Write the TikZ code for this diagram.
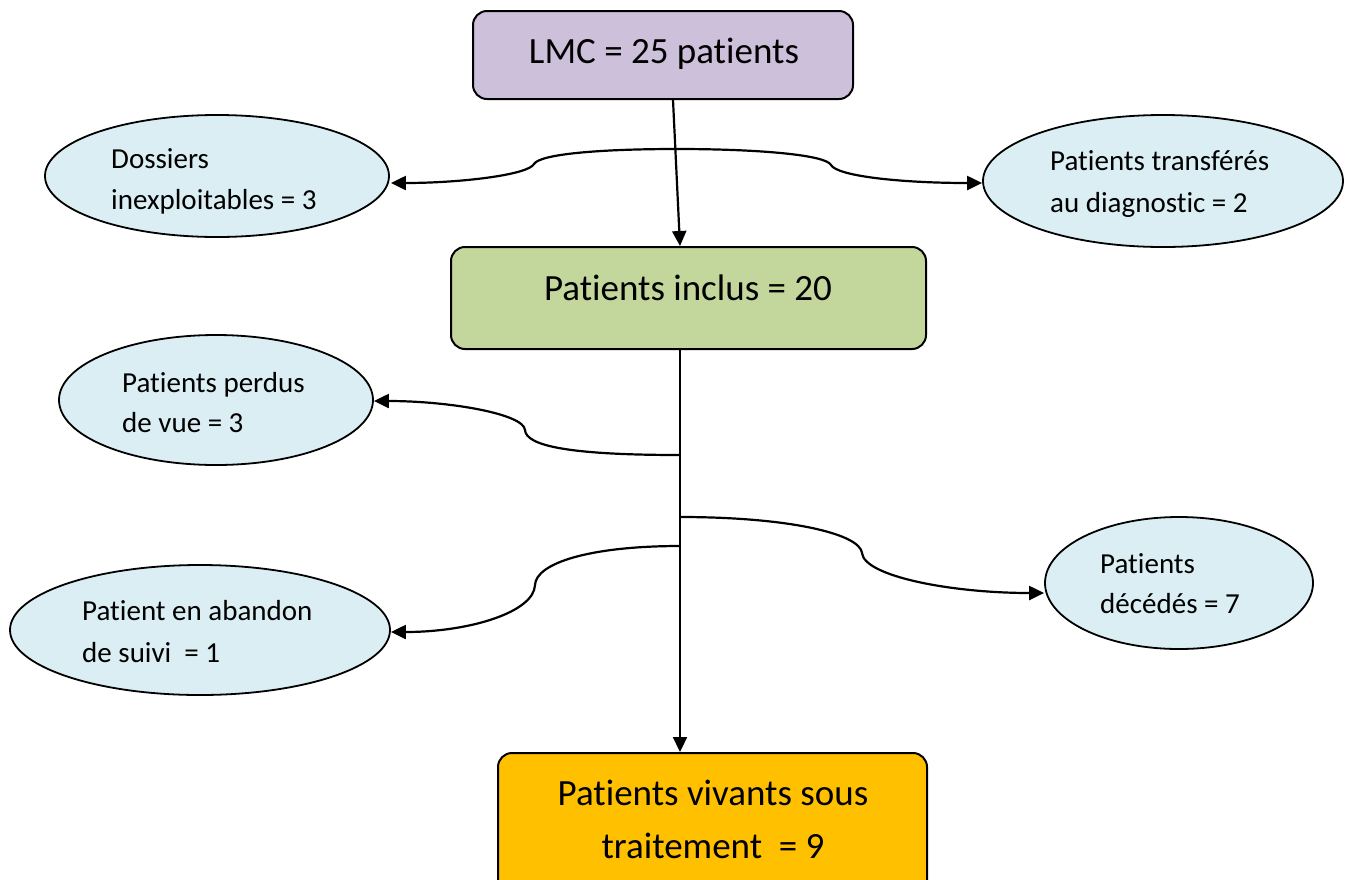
\documentclass[tikz,border=0pt]{standalone}
\usepackage{fontspec}
\setmainfont{Carlito}[RawFeature={-liga;-clig;-calt;-dlig}]
\usetikzlibrary{arrows.meta,shapes.geometric,calc}
\definecolor{lmcpurple}{HTML}{CCC0DA}
\definecolor{inclgreen}{HTML}{C3D69B}
\definecolor{vivorange}{HTML}{FFC000}
\definecolor{ellblue}{HTML}{DAEEF3}
\begin{document}
\begin{tikzpicture}[x=1pt,y=-1pt,
  box/.style={draw=black,line width=2pt,rounded corners=14pt,inner sep=0pt},
  oval/.style={draw=black,line width=1.8pt,fill=ellblue,ellipse,inner sep=0pt},
  bigtxt/.style={font=\fontsize{37}{53}\selectfont,inner sep=0pt,anchor=base},
  smalltxt/.style={font=\fontsize{29}{41}\selectfont,inner sep=0pt,anchor=base west},
  conn/.style={line width=2.2pt,-{Triangle[length=15pt,width=14pt]}},
  plain/.style={line width=2.2pt}]
\useasboundingbox (0,0) rectangle (1352,879);
% boxes
\node[box,fill=lmcpurple,minimum width=380pt,minimum height=88pt] (lmc) at (663,55) {};
\node[box,fill=inclgreen,minimum width=475pt,minimum height=102pt] (incl) at (688.5,298) {};
\node[box,fill=vivorange,minimum width=429pt,minimum height=150pt] (viv) at (712.5,828) {};
\node[bigtxt] (lmct) at (664,63) {LMC = 25 patients};
\node[bigtxt] (inclt) at (688,300) {Patients inclus = 20};
\node[bigtxt] (vivt1) at (713,805) {Patients vivants sous};
\node[bigtxt] (vivt2) at (713,858) {traitement\ \ = 9};
% ellipses
\node[oval,minimum width=344pt,minimum height=122pt] (e1) at (217,176) {};
\node[oval,minimum width=360pt,minimum height=132pt] (e2) at (1163,181) {};
\node[oval,minimum width=314pt,minimum height=130pt] (e3) at (216,400) {};
\node[oval,minimum width=380pt,minimum height=130pt] (e4) at (200,630) {};
\node[oval,minimum width=268pt,minimum height=132pt] (e5) at (1179,583) {};
\node[smalltxt] (e1a) at (111,168) {Dossiers};
\node[smalltxt] (e1b) at (111,209) {inexploitables = 3};
\node[smalltxt] (e2a) at (1050,170) {Patients transférés};
\node[smalltxt] (e2b) at (1050,212) {au diagnostic = 2};
\node[smalltxt] (e3a) at (122,392) {Patients perdus};
\node[smalltxt] (e3b) at (122,432) {de vue = 3};
\node[smalltxt] (e4a) at (82,620) {Patient en abandon};
\node[smalltxt] (e4b) at (82,662) {de suivi\ \ = 1};
\node[smalltxt] (e5a) at (1100,573) {Patients};
\node[smalltxt] (e5b) at (1100,613) {décédés = 7};
% connector points
\coordinate (lmcout) at ($(lmc.south)+(10,0)$);
\coordinate (inclin) at ($(incl.north)+(-8.5,0)$);
\coordinate (inclout) at ($(incl.south)+(-8.5,0)$);
\coordinate (vivin) at (viv.north -| inclout);
\coordinate (top) at (677,149);
\coordinate (e1in) at ($(e1.east)+(1,7)$);
\coordinate (e2in) at ($(e2.west)+(0,2)$);
\coordinate (e3in) at ($(e3.east)+(0,1)$);
\coordinate (e4in) at ($(e4.east)+(0,2)$);
\coordinate (e5in) at ($(e5.west)+(0,10)$);
\coordinate (j1) at (680,455);
\coordinate (j2) at (680,517);
\coordinate (j3) at (680,546);
% connectors
\draw[conn] (lmcout) -- (inclin);
\draw[conn] (top) .. controls (600,149) and (540,154) .. (534,164)
  .. controls (528,175) and (460,183) .. (e1in);
\draw[conn] (top) .. controls (760,149) and (826,155) .. (831,165)
  .. controls (837,176) and (900,183) .. (e2in);
\draw[conn] (inclout) -- (vivin);
\draw[conn] (j1) .. controls (570,455) and (526,446) .. (525,430)
  .. controls (524,414) and (450,401) .. (e3in);
\draw[conn] (j2) .. controls (790,517) and (860,534) .. (862,553)
  .. controls (864,576) and (950,593) .. (e5in);
\draw[conn] (j3) .. controls (590,546) and (536,563) .. (535,585)
  .. controls (534,612) and (470,632) .. (e4in);
\end{tikzpicture}
\end{document}
